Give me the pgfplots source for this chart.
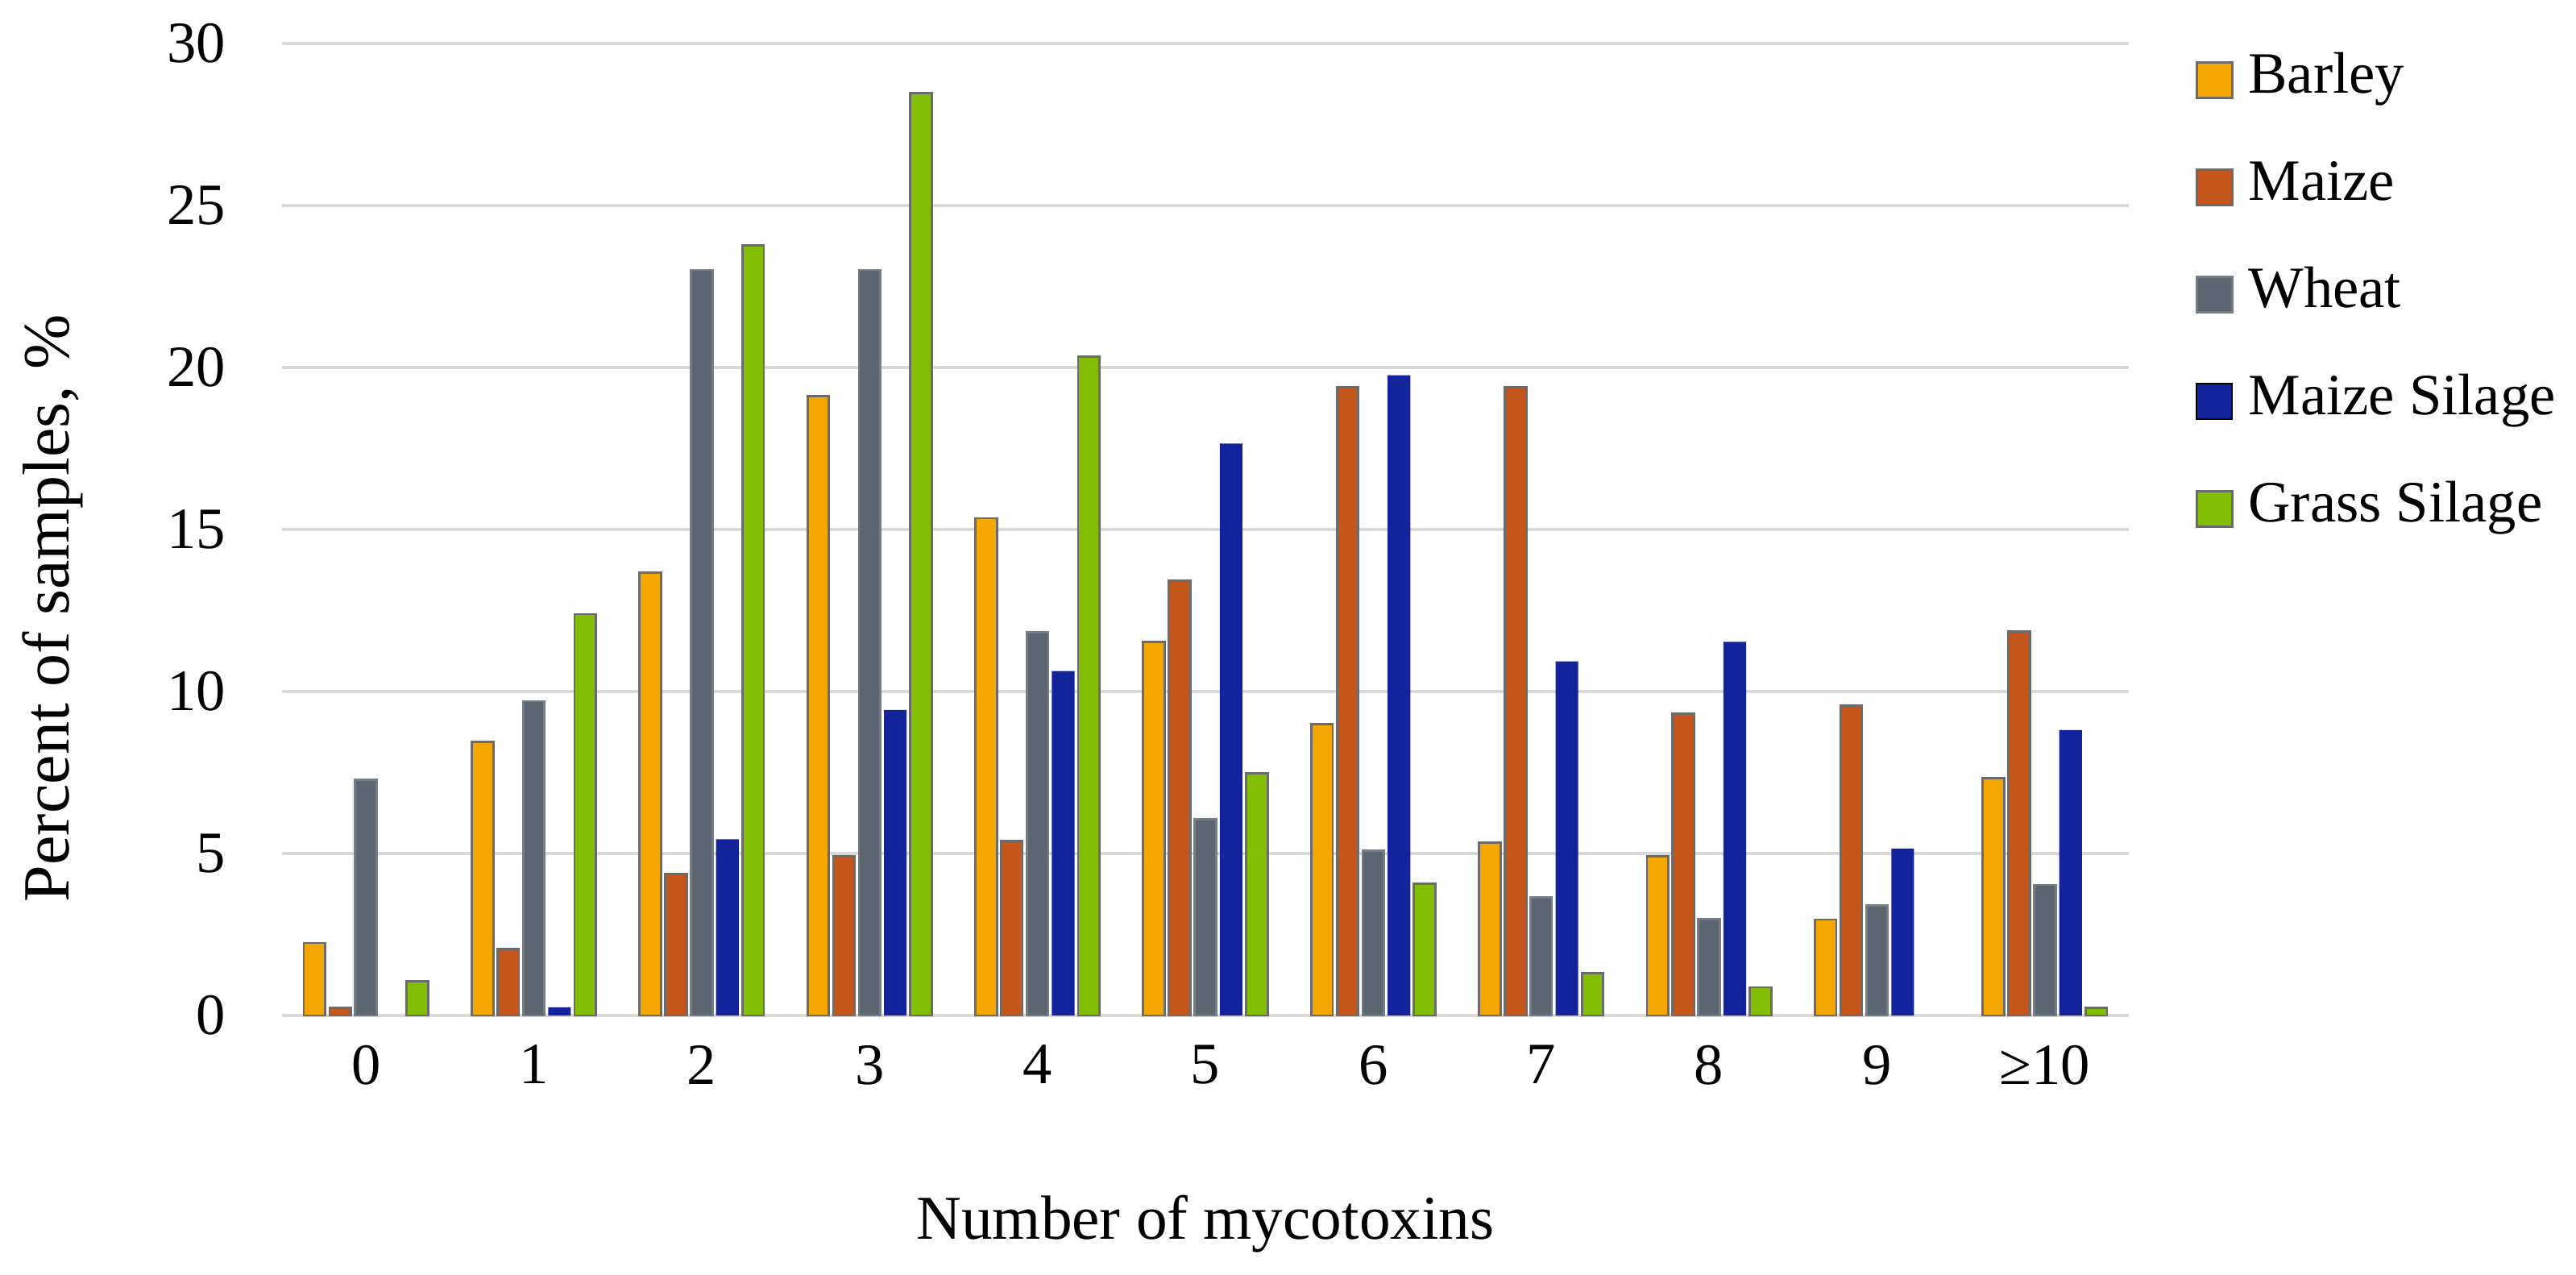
\documentclass[border=0pt]{standalone}
\usepackage{fontspec}
\setmainfont{Liberation Serif}
\usepackage{pgfplots}
\usepackage{pgfplotstable}
\pgfplotsset{compat=1.18}

\definecolor{barley}{HTML}{F4A700}
\definecolor{maize}{HTML}{C4551B}
\definecolor{wheat}{HTML}{5C6670}
\definecolor{msilage}{HTML}{12239B}
\definecolor{grass}{HTML}{82BE05}
\definecolor{outl}{HTML}{6B6B6B}
\definecolor{gridgray}{HTML}{D9D9D9}

% percent of samples by number of mycotoxins (nan = no bar)
\pgfplotstableread{
cat barley maize wheat msil  grass
0   2.24   0.23  7.28  nan   1.06
1   8.44   2.05  9.70  0.25  12.39
2   13.66  4.37  23.01 5.44  23.77
3   19.12  4.92  23.01 9.43  28.47
4   15.35  5.38  11.83 10.63 20.34
5   11.53  13.43 6.06  17.65 7.47
6   9.00   19.39 5.09  19.76 4.06
7   5.34   19.39 3.64  10.93 1.30
8   4.92   9.31  2.98  11.53 0.87
9   2.96   9.56  3.39  5.15  nan
10  7.32   11.86 4.03  8.81  0.23
}\mycotab

\begin{document}
\begin{tikzpicture}
\path[use as bounding box] (-26.25mm,-24.075mm) rectangle (213.525mm,94.5mm);
\begin{axis}[
    at={(0,0)}, anchor=south west,
    scale only axis,
    width=171.9mm, height=90.45mm,
    xmin=-0.5, xmax=10.5,
    ymin=0, ymax=30,
    xtick={0,...,10},
    xticklabels={0,1,2,3,4,5,6,7,8,9,{≥10}},
    ytick={0,5,...,30},
    ymajorgrids,
    grid style={draw=gridgray, line width=0.85pt},
    axis lines*=left,
    y axis line style={draw=none},
    x axis line style={draw=gridgray, line width=0.85pt},
    major tick length=0pt,
    tick style={draw=none},
    /pgf/number format/assume math mode=true,
    tick label style={font=\fontsize{15.5}{18}\selectfont},
    yticklabel style={anchor=east, inner sep=0pt, xshift=-5.2mm},
    xticklabel style={anchor=north, inner sep=0pt, yshift=-2.7mm},
    xlabel={Number of mycotoxins},
    xlabel style={at={(axis description cs:0.5,0)}, anchor=center,
        yshift=-19.4mm, font=\fontsize{16.5}{20}\selectfont},
    ylabel={Percent of samples, \%},
    ylabel style={at={(axis description cs:-0.124,0.419)}, anchor=center,
        font=\fontsize{17.5}{20}\selectfont},
    legend style={
        at={(axis description cs:1.0362,0.99)}, anchor=north west,
        draw=none, fill=none, inner sep=0pt, outer sep=0pt,
        row sep=4.975mm, column sep=1.4mm,
        font=\fontsize{15.5}{18}\selectfont,
        nodes={inner sep=0pt, text height=3.7mm, text depth=1.3mm},
    },
    legend cell align=left,
    every axis plot post/.append style={
        legend image code/.code={\draw[##1] (0mm,-1.65mm) rectangle (3.3mm,1.65mm);}
    },
]
\addplot[ybar, bar width=0.128, bar shift=-0.306, fill=barley, draw=outl, line width=0.6pt]
    table[x=cat, y=barley] {\mycotab};
\addlegendentry{Barley}
\addplot[ybar, bar width=0.128, bar shift=-0.153, fill=maize, draw=outl, line width=0.6pt]
    table[x=cat, y=maize] {\mycotab};
\addlegendentry{Maize}
\addplot[ybar, bar width=0.128, bar shift=0, fill=wheat, draw=wheat!85!white, line width=0.6pt]
    table[x=cat, y=wheat] {\mycotab};
\addlegendentry{Wheat}
\addplot[ybar, bar width=0.135, bar shift=0.153, fill=msilage, draw=none]
    table[x=cat, y=msil] {\mycotab};
\addlegendentry{Maize Silage}
\addplot[ybar, bar width=0.128, bar shift=0.306, fill=grass, draw=outl, line width=0.6pt]
    table[x=cat, y=grass] {\mycotab};
\addlegendentry{Grass Silage}
\end{axis}
\end{tikzpicture}
\end{document}
